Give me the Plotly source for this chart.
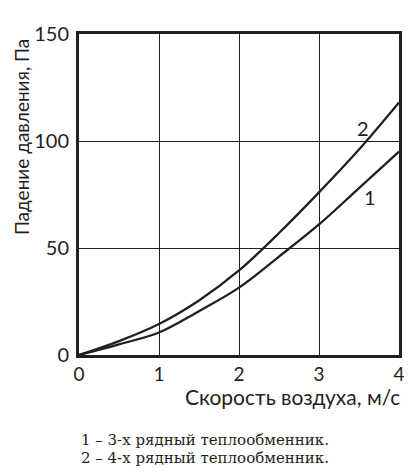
import plotly.graph_objects as go

# скорость воздуха, м/с
speed = [0, 0.5, 1, 1.5, 2, 2.5, 3, 3.5, 4]
# падение давления, Па
rows3 = [0, 5, 10.5, 20.5, 31.5, 46, 61, 78, 95]
rows4 = [0, 6.5, 14.5, 25.5, 39.5, 57, 76, 96, 118]

x_ticks = [0, 1, 2, 3, 4]
y_ticks = [0, 50, 100, 150]

font_main = "Lato, 'Open Sans', sans-serif"
font_note = "'DejaVu Serif', serif"
ink = "#231f20"

fig = go.Figure()
fig.add_trace(go.Scatter(x=speed, y=rows3, mode="lines", line=dict(color=ink, width=2.3, shape="spline"),
                         showlegend=False))
fig.add_trace(go.Scatter(x=speed, y=rows4, mode="lines", line=dict(color=ink, width=2.3, shape="spline"),
                         showlegend=False))

# подписи кривых
fig.add_annotation(x=3.55, y=106, text="2", showarrow=False, font=dict(size=20, color=ink, family=font_main))
fig.add_annotation(x=3.64, y=74, text="1", showarrow=False, font=dict(size=20, color=ink, family=font_main))

# подпись оси Y (сдвинута вверх, как в оригинале)
fig.add_annotation(x=-0.18, y=0.68, xref="paper", yref="paper", xanchor="center", yanchor="middle",
                   text="Падение давления, Па", textangle=-90,
                   showarrow=False, font=dict(size=19, color=ink, family=font_main))

# подпись оси X
fig.add_annotation(x=1.005, y=-0.086, xref="paper", yref="paper", xanchor="right", yanchor="top",
                   text="Скорость воздуха, м/с", showarrow=False, borderpad=0,
                   font=dict(size=21, color=ink, family=font_main))

# пояснения
fig.add_annotation(x=0.0, y=-0.265, xref="paper", yref="paper", xanchor="left", yanchor="middle",
                   text="1 – 3-х рядный теплообменник.", showarrow=False,
                   font=dict(size=15, color=ink, family=font_note))
fig.add_annotation(x=0.0, y=-0.322, xref="paper", yref="paper", xanchor="left", yanchor="middle",
                   text="2 – 4-х рядный теплообменник.", showarrow=False,
                   font=dict(size=15, color=ink, family=font_note))

fig.update_layout(
    width=398, height=459,
    margin=dict(l=71, r=7, t=26, b=112),
    plot_bgcolor="white", paper_bgcolor="white",
    font=dict(family=font_main, size=20, color=ink),
    xaxis=dict(range=[0, 4], tickvals=x_ticks, showgrid=True, gridcolor=ink, gridwidth=1,
               showline=True, linecolor=ink, linewidth=3, mirror=True, zeroline=False,
               ticks="", ticklabelstandoff=0, automargin=False, tickfont=dict(size=19)),
    yaxis=dict(range=[0, 150], tickvals=y_ticks, showgrid=True, gridcolor=ink, gridwidth=1,
               showline=True, linecolor=ink, linewidth=3, mirror=True, zeroline=False,
               ticks="", ticklabelstandoff=3, automargin=False),
)

fig.write_html("out.html")
